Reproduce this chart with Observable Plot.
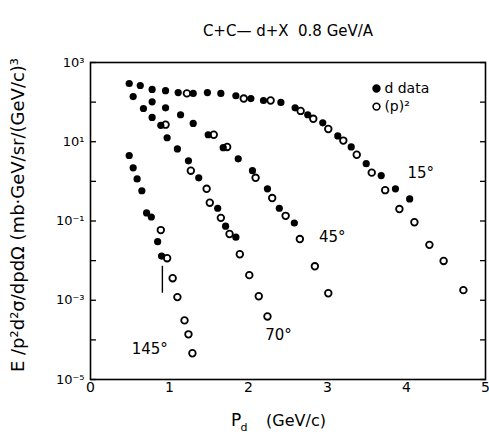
<!DOCTYPE html>
<html><head><meta charset="utf-8">
<script src="https://cdn.jsdelivr.net/npm/d3@7"></script>
<script src="https://cdn.jsdelivr.net/npm/@observablehq/plot@0.6"></script>
<style>body{margin:0;background:#fff;} #chart svg{display:block;}</style>
</head><body><div id="chart"></div>
<script>
const titleText = "C+C\u2014 d+X  0.8 GeV/A";
const yLabelText = "E /p\u00b2d\u00b2\u03c3/dpd\u03a9 (mb\u00b7GeV/sr/(GeV/c)\u00b3";
const xLabelParts = ["P", "d", "(GeV/c)"];
const xTicks = [0, 1, 2, 3, 4, 5];
const yTicks = [1e3, 1e2, 1e1, 1e0, 1e-1, 1e-2, 1e-3, 1e-4, 1e-5];
const angles = ["15\u00b0", "45\u00b0", "70\u00b0", "145\u00b0"];
const legendLabels = ["d data", "(p)\u00b2"];

// 15 deg
const d15P = [0.49,0.63,0.78,0.95,1.11,1.30,1.48,1.65,1.84,2.03,2.19,2.41,2.59,2.75,2.94,3.13,3.30,3.49,3.68,3.86,4.04];
const d15V = [295,263,209,195,174,166,174,166,145,123,110,98,72,48,30,14,7.4,2.8,1.4,0.65,0.36];
const p15P = [1.22,1.94,2.28,2.66,2.82,3.01,3.20,3.37,3.56,3.73,3.91,4.10,4.29,4.47,4.72];
const p15V = [166,123,110,60,38,21,10.7,4.7,1.66,0.60,0.20,0.093,0.025,0.0098,0.0018];
// 45 deg
const d45P = [0.54,0.78,0.95,1.14,1.30,1.49,1.68,1.87,2.05,2.24,2.39,2.58];
const d45V = [138,102,72,48,29,15,7.1,3.7,1.86,0.65,0.21,0.089];
const p45P = [1.56,1.73,2.09,2.30,2.47,2.65,2.84,3.01];
const p45V = [15,7.4,1.23,0.38,0.135,0.035,0.0072,0.0015];
// 70 deg
const d70P = [0.67,0.78,0.89,0.97,1.10,1.24,1.37,1.61,1.71,1.84];
const d70V = [69,41,26,12.6,6.6,3.3,1.23,0.21,0.074,0.039];
const p70P = [0.95,1.27,1.47,1.51,1.65,1.76,1.89,2.01,2.13,2.24];
const p70V = [27,1.86,0.65,0.29,0.12,0.047,0.0145,0.0043,0.00126,0.00039];
// 145 deg
const d145P = [0.49,0.54,0.59,0.65,0.71,0.77,0.85,0.90];
const d145V = [4.5,2.2,1.15,0.58,0.16,0.126,0.030,0.013];
const p145P = [0.89,0.97,1.04,1.10,1.19,1.24,1.29];
const p145V = [0.059,0.0115,0.0036,0.0012,0.00031,0.000138,0.000046];
const err145P = [0.91];
const err145Lo = [0.0015];
const err145Hi = [0.0072];

// angle label anchors (data coords)
const angleLabelP = [4.18, 3.06, 2.38, 0.75];
const angleLabelV = [1.64, 0.039, 1.29e-4, 5.7e-5];
// legend anchor (data coords)
const legendP = 3.62, legendTextP = 3.72;
const legendV = [220, 77];

const zip = (P, V) => P.map((p, i) => ({p, v: V[i]}));
const dData = [zip(d15P,d15V), zip(d45P,d45V), zip(d70P,d70V), zip(d145P,d145V)].flat();
const pData = [zip(p15P,p15V), zip(p45P,p45V), zip(p70P,p70V), zip(p145P,p145V)].flat();
const errData = err145P.map((p, i) => ({p, lo: err145Lo[i], hi: err145Hi[i]}));
const angleData = angles.map((t, i) => ({t, p: angleLabelP[i], v: angleLabelV[i]}));
const legendData = legendLabels.map((t, i) => ({t, v: legendV[i], filled: i === 0}));

const sup = {"0":"\u2070","1":"\u00b9","2":"\u00b2","3":"\u00b3","4":"\u2074","5":"\u2075","6":"\u2076","7":"\u2077","8":"\u2078","9":"\u2079","-":"\u207b"};
const fmtY = d => {
  const e = Math.round(Math.log10(d));
  if (Math.abs(e) % 2 === 0) return "";
  return "10" + String(e).split("").map(c => sup[c]).join("");
};

const font = "DejaVu Sans, sans-serif";
const chart = Plot.plot({
  width: 489, height: 438,
  marginLeft: 90, marginRight: 4, marginTop: 62, marginBottom: 59,
  style: {fontFamily: font, background: "#fff", color: "#000"},
  x: {domain: [0, 5]},
  y: {type: "log", domain: [1e-5, 1e3]},
  marks: [
    Plot.frame({stroke: "#000", strokeWidth: 1.6}),
    Plot.axisX(xTicks, {tickSize: 0, tickPadding: 3, fontSize: 14, label: null}),
    Plot.axisY(yTicks, {anchor: "left", tickSize: -6, tickPadding: 12, tickFormat: fmtY, fontSize: 13, label: null, strokeWidth: 1.3}),
    Plot.axisY(yTicks, {anchor: "right", tickSize: -6, tickFormat: () => "", label: null, strokeWidth: 1.3}),
    Plot.ruleX(errData, {x: "p", y1: "lo", y2: "hi", stroke: "#000", strokeWidth: 1.4}),
    Plot.dot(pData, {x: "p", y: "v", r: 3.3, stroke: "#000", strokeWidth: 1.8, fill: "#fff"}),
    Plot.dot(dData, {x: "p", y: "v", r: 3.6, fill: "#000", stroke: "none"}),
    Plot.text(angleData, {x: "p", y: "v", text: "t", fontSize: 15, fill: "#000"}),
    Plot.dot(legendData, {x: () => legendP, y: "v", r: 3.4, fill: d => d.filled ? "#000" : "#fff", stroke: "#000", strokeWidth: 1.6}),
    Plot.text(legendData, {x: () => legendTextP, y: "v", text: "t", textAnchor: "start", fontSize: 14, fill: "#000"}),
    Plot.text([titleText], {frameAnchor: "top", dy: -37, fontSize: 15, fill: "#000"}),
    Plot.text([yLabelText], {frameAnchor: "left", textAnchor: "middle", dx: -72, dy: -6, rotate: -90, fontSize: 18, fill: "#000"}),
    Plot.text([xLabelParts[0]], {frameAnchor: "bottom", dx: -52, dy: 46, fontSize: 17, fill: "#000"}),
    Plot.text([xLabelParts[1]], {frameAnchor: "bottom", dx: -44, dy: 51, fontSize: 11, fill: "#000"}),
    Plot.text([xLabelParts[2]], {frameAnchor: "bottom", dx: 8, dy: 46, fontSize: 16, fill: "#000"})
  ]
});
document.getElementById("chart").appendChild(chart);
</script>
</body></html>
